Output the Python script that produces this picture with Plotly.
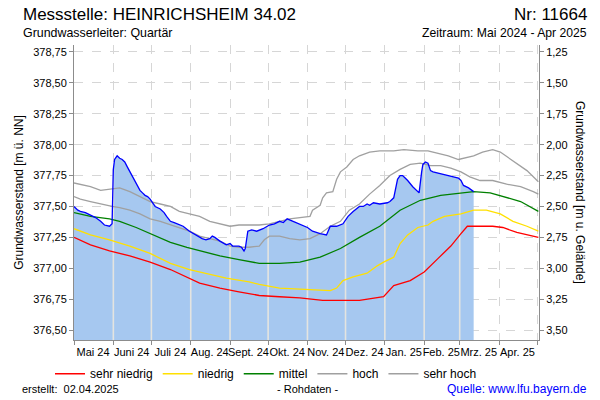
import plotly.graph_objects as go
import numpy as np
import pandas as pd

# ---------------- data ----------------
mess_dates = ["2024-05-01","2024-05-04","2024-05-06","2024-05-10","2024-05-14","2024-05-18","2024-05-22","2024-05-25",
              "2024-05-29","2024-05-31","2024-06-01","2024-06-02","2024-06-04","2024-06-06","2024-06-08","2024-06-10",
              "2024-06-12","2024-06-14","2024-06-16","2024-06-18","2024-06-20","2024-06-22","2024-06-24","2024-06-26",
              "2024-06-28","2024-06-30","2024-07-02","2024-07-04","2024-07-08","2024-07-11","2024-07-13","2024-07-16",
              "2024-07-19","2024-07-21","2024-07-26","2024-07-31","2024-08-03","2024-08-06","2024-08-10","2024-08-13",
              "2024-08-16","2024-08-18","2024-08-20","2024-08-24","2024-08-29","2024-09-01","2024-09-03","2024-09-08",
              "2024-09-10","2024-09-12","2024-09-13","2024-09-15","2024-09-18","2024-09-22","2024-09-27","2024-10-02",
              "2024-10-06","2024-10-10","2024-10-13","2024-10-16","2024-10-21","2024-10-26","2024-11-01","2024-11-05",
              "2024-11-11","2024-11-16","2024-11-19","2024-11-24","2024-11-29","2024-12-03","2024-12-07","2024-12-12",
              "2024-12-15","2024-12-18","2024-12-20","2024-12-23","2024-12-28","2025-01-03","2025-01-05","2025-01-08",
              "2025-01-11","2025-01-13","2025-01-15","2025-01-17","2025-01-19","2025-01-23","2025-01-26","2025-01-28",
              "2025-01-30","2025-01-31","2025-02-02","2025-02-04","2025-02-06","2025-02-08","2025-02-12","2025-02-16",
              "2025-02-20","2025-02-24","2025-02-28","2025-03-02","2025-03-04","2025-03-08","2025-03-12"]
mess_vals = [377.50,377.47,377.46,377.45,377.43,377.41,377.38,377.35,
             377.34,377.36,377.80,377.88,377.91,377.89,377.88,377.86,
             377.82,377.78,377.74,377.70,377.66,377.63,377.61,377.59,
             377.58,377.56,377.53,377.50,377.48,377.45,377.42,377.38,
             377.37,377.36,377.34,377.30,377.28,377.26,377.24,377.23,
             377.24,377.26,377.25,377.22,377.19,377.20,377.18,377.18,
             377.17,377.14,377.16,377.30,377.31,377.30,377.32,377.35,
             377.36,377.38,377.37,377.40,377.38,377.36,377.33,377.30,
             377.28,377.27,377.34,377.34,377.36,377.42,377.46,377.50,
             377.50,377.52,377.51,377.53,377.52,377.53,377.54,377.57,
             377.72,377.75,377.75,377.73,377.71,377.66,377.63,377.61,
             377.78,377.84,377.86,377.85,377.79,377.78,377.77,377.76,
             377.75,377.74,377.73,377.71,377.67,377.65,377.62]

sh_dates = ["2024-05-01","2024-05-14","2024-05-22","2024-05-31","2024-06-06","2024-06-14","2024-06-22","2024-06-30",
            "2024-07-08","2024-07-16","2024-07-23","2024-07-31","2024-08-08","2024-08-16","2024-08-24","2024-09-01",
            "2024-09-08","2024-09-16","2024-09-24","2024-10-02","2024-10-10","2024-10-18","2024-11-03","2024-11-05",
            "2024-11-11","2024-11-13","2024-11-16","2024-11-21","2024-11-24","2024-11-27","2024-12-02","2024-12-07",
            "2024-12-12","2024-12-20","2024-12-28","2025-01-08","2025-01-16","2025-01-27","2025-02-04","2025-02-12",
            "2025-02-20","2025-02-28","2025-03-04","2025-03-12","2025-03-19","2025-03-27","2025-04-02","2025-04-12",
            "2025-04-23","2025-05-02"]
sh_vals = [377.69,377.66,377.63,377.64,377.65,377.62,377.58,377.54,
           377.52,377.50,377.46,377.44,377.42,377.38,377.36,377.34,
           377.35,377.35,377.35,377.36,377.38,377.40,377.42,377.47,
           377.51,377.57,377.61,377.62,377.72,377.78,377.82,377.88,
           377.91,377.94,377.95,377.95,377.96,377.95,377.95,377.93,
           377.91,377.88,377.89,377.91,377.94,377.96,377.94,377.87,
           377.79,377.70]

h_dates = ["2024-05-01","2024-05-06","2024-05-14","2024-05-22","2024-05-31","2024-06-06","2024-06-14","2024-06-22",
           "2024-06-30","2024-07-08","2024-07-16","2024-07-23","2024-07-31","2024-08-08","2024-08-16","2024-08-24",
           "2024-09-01","2024-09-08","2024-09-16","2024-09-24","2024-09-28","2024-10-02","2024-10-10","2024-10-18",
           "2024-10-26","2024-11-03","2024-11-11","2024-11-19","2024-11-27","2024-12-04","2024-12-12","2024-12-20",
           "2024-12-28","2025-01-05","2025-01-13","2025-01-21","2025-01-29","2025-02-06","2025-02-14","2025-02-22",
           "2025-03-02","2025-03-09","2025-03-17","2025-03-27","2025-04-07","2025-04-18","2025-04-28","2025-05-02"]
h_vals = [377.58,377.56,377.54,377.52,377.50,377.49,377.47,377.44,
          377.40,377.38,377.35,377.33,377.30,377.26,377.24,377.22,
          377.18,377.17,377.17,377.18,377.23,377.26,377.26,377.24,
          377.23,377.24,377.28,377.34,377.38,377.47,377.52,377.60,
          377.67,377.75,377.80,377.84,377.85,377.83,377.83,377.81,
          377.78,377.74,377.71,377.71,377.68,377.66,377.62,377.60]

m_dates = ["2024-05-01","2024-05-14","2024-05-29","2024-06-06","2024-06-19","2024-07-02","2024-07-16","2024-07-29",
           "2024-08-10","2024-08-24","2024-09-08","2024-09-24","2024-10-10","2024-10-26","2024-11-11","2024-11-27",
           "2024-12-12","2024-12-28","2025-01-13","2025-01-29","2025-02-14","2025-03-02","2025-03-12","2025-03-25",
           "2025-04-04","2025-04-18","2025-05-02"]
m_vals = [377.45,377.42,377.40,377.38,377.33,377.27,377.21,377.17,
          377.14,377.10,377.07,377.04,377.04,377.05,377.09,377.16,
          377.25,377.34,377.47,377.55,377.59,377.61,377.62,377.61,
          377.58,377.54,377.46]

n_dates = ["2024-05-01","2024-05-14","2024-05-29","2024-06-14","2024-06-30","2024-07-16","2024-07-31","2024-08-16",
           "2024-08-29","2024-09-16","2024-09-24","2024-10-10","2024-10-26","2024-11-11","2024-11-19","2024-11-24",
           "2024-11-29","2024-12-07","2024-12-18","2024-12-26","2024-12-31","2025-01-08","2025-01-13","2025-01-19",
           "2025-01-27","2025-02-04","2025-02-08","2025-02-17","2025-03-02","2025-03-12","2025-03-22","2025-04-02",
           "2025-04-12","2025-04-23","2025-05-02"]
n_vals = [377.32,377.27,377.23,377.18,377.12,377.04,376.99,376.95,
          376.92,376.89,376.87,376.84,376.83,376.82,376.82,376.84,
          376.90,376.93,376.96,377.02,377.05,377.09,377.20,377.27,
          377.33,377.35,377.38,377.42,377.44,377.47,377.47,377.44,
          377.38,377.34,377.30]

sn_dates = ["2024-05-01","2024-05-14","2024-05-29","2024-06-14","2024-06-30","2024-07-16","2024-08-08","2024-08-24",
            "2024-09-08","2024-09-24","2024-10-10","2024-10-26","2024-11-13","2024-12-12","2024-12-31","2025-01-08",
            "2025-01-21","2025-02-01","2025-02-12","2025-02-22","2025-03-02","2025-03-07","2025-03-27","2025-04-04",
            "2025-04-15","2025-05-02"]
sn_vals = [377.25,377.19,377.14,377.10,377.05,376.99,376.88,376.84,
           376.81,376.78,376.77,376.76,376.74,376.74,376.77,376.86,
           376.90,376.97,377.08,377.18,377.28,377.34,377.34,377.33,
           377.29,377.25]

month_starts = ["2024-05-01","2024-06-01","2024-07-01","2024-08-01","2024-09-01","2024-10-01","2024-11-01",
                "2024-12-01","2025-01-01","2025-02-01","2025-03-01","2025-04-01","2025-05-01"]
month_mids = ["2024-05-16","2024-06-15 12:00","2024-07-16","2024-08-16","2024-09-15 12:00","2024-10-16",
              "2024-11-15 12:00","2024-12-16","2025-01-16","2025-02-14 12:00","2025-03-16","2025-04-15 12:00"]
month_labels = ["Mai 24","Juni 24","Juli 24","Aug. 24","Sept. 24","Okt. 24","Nov. 24","Dez. 24",
                "Jan. 25","Feb. 25","Mrz. 25","Apr. 25"]

left_ticks = [376.50,376.75,377.00,377.25,377.50,377.75,378.00,378.25,378.50,378.75]
right_ticks = [1.25,1.50,1.75,2.00,2.25,2.50,2.75,3.00,3.25,3.50]
gelaende = 380.00  # m ü. NN

# ---------------- layout geometry ----------------
W, H = 600, 400
ML, MR, MT, MB = 74, 61, 45, 58
PW, PH = W - ML - MR, H - MT - MB
y_lo, y_hi = 376.42, 378.806
x_range = ["2024-05-01", "2025-05-02 12:00"]

def px(xp):
    return (xp - ML) / PW

def py(yp):
    return (H - MB - yp) / PH

FONT = "Liberation Sans, Arial, sans-serif"
fig = go.Figure()

# filled measured area (no line)
fig.add_trace(go.Scatter(x=mess_dates, y=mess_vals, mode="lines", fill="tozeroy",
                         fillcolor="#a6c8f0", line=dict(width=0, color="rgba(0,0,0,0)"),
                         showlegend=False, hoverinfo="skip"))

# light month separators inside the filled area
t_mess = pd.to_datetime(mess_dates).astype("int64").to_numpy()
sep_x, sep_y = [], []
for ms in month_starts:
    t = pd.Timestamp(ms).value
    if t_mess[0] < t <= t_mess[-1]:
        v = float(np.interp(t, t_mess, mess_vals))
        sep_x += [ms, ms, None]
        sep_y += [y_lo, v, None]
fig.add_trace(go.Scatter(x=sep_x, y=sep_y, mode="lines", line=dict(color="#e4e4e0", width=1.6),
                         showlegend=False, hoverinfo="skip"))

series = [("sehr niedrig", sn_dates, sn_vals, "#ff0000"),
          ("niedrig", n_dates, n_vals, "#ffe000"),
          ("mittel", m_dates, m_vals, "#008000"),
          ("hoch", h_dates, h_vals, "#a0a0a0"),
          ("sehr hoch", sh_dates, sh_vals, "#a0a0a0")]
for name, d, v, c in series:
    fig.add_trace(go.Scatter(x=d, y=v, mode="lines", name=name, line=dict(color=c, width=1.3)))

# measured line on top
fig.add_trace(go.Scatter(x=mess_dates, y=mess_vals, mode="lines", line=dict(color="#0000ff", width=1.3),
                         showlegend=False, name="Messwerte"))

# invisible trace to carry the secondary axes
fig.add_trace(go.Scatter(x=[month_mids[0]], y=[gelaende - y_lo], xaxis="x2", yaxis="y2", mode="markers",
                         marker=dict(opacity=0), showlegend=False, hoverinfo="skip"))

axis_col = "#8c8c8c"
grid_col = "#d6d6d6"
fig.update_layout(
    width=W, height=H,
    margin=dict(l=ML, r=MR, t=MT, b=MB),
    paper_bgcolor="white", plot_bgcolor="white",
    separators=",.",
    font=dict(family=FONT, size=11, color="black"),
    showlegend=True,
    legend=dict(orientation="h", x=px(266), xanchor="center", y=py(376), yanchor="middle",
                font=dict(size=12, family=FONT), bgcolor="rgba(0,0,0,0)", itemwidth=30,
                traceorder="normal"),
    xaxis=dict(type="date", range=x_range, tickmode="array", tickvals=month_starts,
               showticklabels=False, ticks="outside", ticklen=4, tickcolor=axis_col,
               showline=True, linecolor=axis_col, linewidth=1,
               showgrid=True, gridcolor=grid_col, griddash="dash", gridwidth=1, zeroline=False),
    xaxis2=dict(type="date", range=x_range, overlaying="x", side="bottom", tickmode="array",
                tickvals=month_mids, ticktext=month_labels, ticks="", showgrid=False, showline=False,
                zeroline=False, tickangle=0, tickfont=dict(size=11, family=FONT), ticklabelstandoff=4),
    yaxis=dict(range=[y_lo, y_hi], tickmode="array", tickvals=left_ticks, tickformat=".2f",
               ticks="outside", ticklen=4, tickcolor=axis_col, showline=True, linecolor=axis_col,
               showgrid=True, gridcolor=grid_col, griddash="dash", gridwidth=1, zeroline=False,
               tickfont=dict(size=11, family=FONT),
               title=dict(text="Grundwasserstand [m ü. NN]", font=dict(size=12, family=FONT), standoff=6)),
    yaxis2=dict(range=[gelaende - y_lo, gelaende - y_hi], overlaying="y", side="right",
                tickmode="array", tickvals=right_ticks, tickformat=".2f",
                ticks="outside", ticklen=4, tickcolor=axis_col, showline=True, linecolor=axis_col,
                showgrid=False, zeroline=False, tickfont=dict(size=11, family=FONT)),
)

ann = [
    dict(text="Messstelle: HEINRICHSHEIM 34.02", x=px(21), y=py(14), xanchor="left", yanchor="middle",
         font=dict(size=17, family=FONT)),
    dict(text="Nr: 11664", x=px(589), y=py(14), xanchor="right", yanchor="middle",
         font=dict(size=17, family=FONT)),
    dict(text="Grundwasserleiter: Quartär", x=px(21), y=py(33), xanchor="left", yanchor="middle",
         font=dict(size=12.4, family=FONT)),
    dict(text="Zeitraum: Mai 2024 - Apr 2025", x=px(589), y=py(33), xanchor="right", yanchor="middle",
         font=dict(size=12.2, family=FONT)),
    dict(text="Grundwasserstand [m u. Gelände]", x=px(580), y=py(193), xanchor="center", yanchor="middle",
         textangle=90, font=dict(size=12, family=FONT)),
    dict(text="erstellt:  02.04.2025", x=px(20), y=py(391), xanchor="left", yanchor="middle",
         font=dict(size=11, family=FONT)),
    dict(text="- Rohdaten -", x=px(307), y=py(391), xanchor="center", yanchor="middle",
         font=dict(size=11, family=FONT)),
    dict(text="Quelle: www.lfu.bayern.de", x=px(589), y=py(391), xanchor="right", yanchor="middle",
         font=dict(size=12, family=FONT, color="#0000ff")),
]
for a in ann:
    a.update(xref="paper", yref="paper", showarrow=False)
fig.update_layout(annotations=ann)

fig.write_html("out.html")
